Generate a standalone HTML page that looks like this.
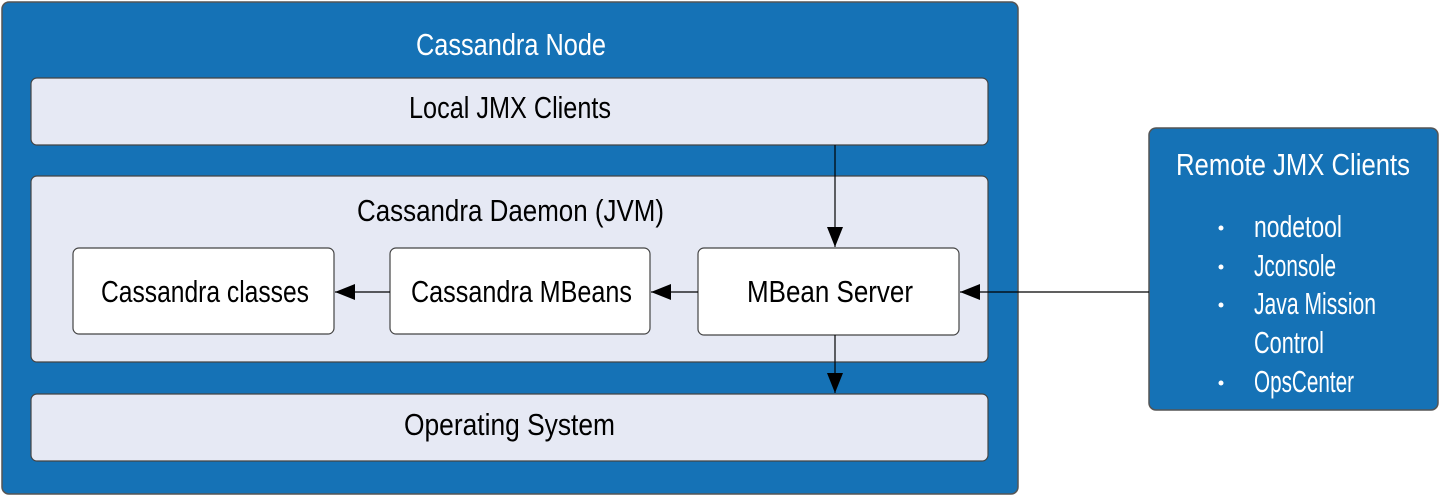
<!DOCTYPE html>
<html><head><meta charset="utf-8"><style>html,body{margin:0;padding:0;background:#fff}svg{display:block}text{font-family:"Liberation Sans",sans-serif;font-size:31px}</style></head>
<body>
<svg width="1440" height="496" viewBox="0 0 1440 496" xmlns="http://www.w3.org/2000/svg">
<defs>
<marker id="b" markerWidth="20" markerHeight="16" refX="20" refY="8" orient="auto" markerUnits="userSpaceOnUse"><path d="M0,0 L20,8 L0,16 Z" fill="#000"/></marker></defs>
<rect x="2" y="2" width="1016" height="492" rx="7" fill="#1572b6" stroke="#555" stroke-width="1.5"/>
<rect x="31" y="78" width="957" height="67" rx="6" fill="#e6e9f4" stroke="#444" stroke-width="1.2"/>
<rect x="31" y="176" width="957" height="186" rx="6" fill="#e6e9f4" stroke="#444" stroke-width="1.2"/>
<rect x="31" y="394" width="957" height="67" rx="6" fill="#e6e9f4" stroke="#444" stroke-width="1.2"/>
<rect x="73" y="248" width="261" height="86" rx="6" fill="#fff" stroke="#444" stroke-width="1.2"/>
<rect x="390" y="248" width="260" height="86" rx="6" fill="#fff" stroke="#444" stroke-width="1.2"/>
<rect x="698" y="248" width="261" height="87" rx="6" fill="#fff" stroke="#444" stroke-width="1.2"/>
<rect x="1149" y="128" width="289" height="282" rx="7" fill="#1572b6" stroke="#555" stroke-width="1.5"/>
<g stroke="#000" stroke-width="1.2" fill="none">
<line x1="835" y1="145" x2="835" y2="247" marker-end="url(#b)"/>
<line x1="835" y1="335" x2="835" y2="393" marker-end="url(#b)"/>
<line x1="1149" y1="292" x2="960" y2="292" marker-end="url(#b)"/>
<line x1="698" y1="292" x2="651" y2="292" marker-end="url(#b)"/>
<line x1="390" y1="292" x2="335" y2="292" marker-end="url(#b)"/>
</g>
<g text-anchor="start">
<text x="416" y="55" fill="#fff" textLength="190" lengthAdjust="spacingAndGlyphs">Cassandra Node</text>
<text x="409" y="118" fill="#000" textLength="202" lengthAdjust="spacingAndGlyphs">Local JMX Clients</text>
<text x="357" y="221" fill="#000" textLength="307" lengthAdjust="spacingAndGlyphs">Cassandra Daemon (JVM)</text>
<text x="101" y="302" fill="#000" textLength="208" lengthAdjust="spacingAndGlyphs">Cassandra classes</text>
<text x="411" y="302" fill="#000" textLength="221" lengthAdjust="spacingAndGlyphs">Cassandra MBeans</text>
<text x="747" y="302" fill="#000" textLength="166" lengthAdjust="spacingAndGlyphs">MBean Server</text>
<text x="404" y="435" fill="#000" textLength="211" lengthAdjust="spacingAndGlyphs">Operating System</text>
<text x="1176" y="175" fill="#fff" textLength="234" lengthAdjust="spacingAndGlyphs">Remote JMX Clients</text>
<g style="font-size:27px" fill="#fff">
<text x="1254" y="237" textLength="88" lengthAdjust="spacingAndGlyphs">nodetool</text>
<text x="1254" y="276" textLength="82" lengthAdjust="spacingAndGlyphs">Jconsole</text>
<text x="1254" y="314" textLength="122" lengthAdjust="spacingAndGlyphs">Java Mission</text>
<text x="1254" y="353" textLength="70" lengthAdjust="spacingAndGlyphs">Control</text>
<text x="1254" y="392" textLength="100" lengthAdjust="spacingAndGlyphs">OpsCenter</text>
</g>
</g>
<g fill="#fff"><circle cx="1221" cy="228" r="2.5"/><circle cx="1221" cy="267" r="2.5"/><circle cx="1221" cy="305" r="2.5"/><circle cx="1221" cy="383" r="2.5"/></g>
</svg>
</body></html>
